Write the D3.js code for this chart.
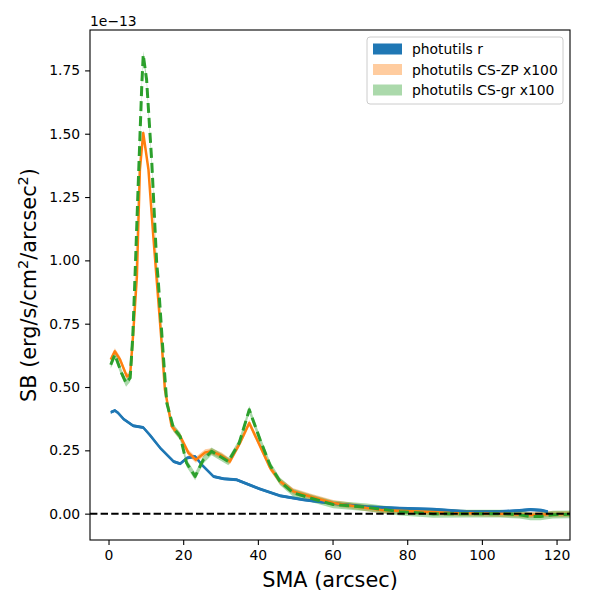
<!DOCTYPE html>
<html>
<head>
<meta charset="utf-8">
<script src="https://cdn.jsdelivr.net/npm/d3@7"></script>
<style>
  body { margin: 0; background: #fff; }
  svg { font-family: "DejaVu Sans", sans-serif; }
</style>
</head>
<body>
<div id="chart"></div>
<script>
// photutils r profile (units of 1e-13)
const smaR = [0.6, 1.7, 2.6, 4, 6.6, 9.3, 11.1, 13.8, 17.4, 19.2, 21, 23.2, 25, 28.1, 30.8, 34.3, 37, 40.6, 45.9, 52.2, 60.2, 69.2, 78, 87, 96, 104.8, 110, 113, 116, 117.7];
const sbR = [0.400, 0.407, 0.397, 0.374, 0.347, 0.340, 0.310, 0.260, 0.206, 0.197, 0.220, 0.226, 0.193, 0.147, 0.138, 0.134, 0.118, 0.097, 0.071, 0.055, 0.040, 0.027, 0.021, 0.017, 0.008, 0.008, 0.012, 0.016, 0.013, 0.007];

// CS-ZP x100
const smaZP = [0.6, 1.7, 3.1, 4.9, 5.8, 6.6, 7.6, 8.4, 9.3, 10.7, 12, 12.9, 14.3, 15.1, 16.9, 19.2, 21.4, 23.4, 25.9, 27.6, 30.3, 32.5, 35.2, 37.7, 40.6, 43.3, 45.9, 49.5, 54, 60.2, 69.2, 73.6, 82.6, 91.5, 100, 108, 113, 118, 126];
const sbZP = [0.608, 0.641, 0.608, 0.542, 0.549, 0.710, 0.937, 1.358, 1.503, 1.358, 1.095, 0.924, 0.660, 0.490, 0.345, 0.305, 0.240, 0.213, 0.242, 0.246, 0.229, 0.206, 0.279, 0.358, 0.266, 0.180, 0.128, 0.088, 0.068, 0.042, 0.022, 0.013, 0.009, 0.003, 0.001, -0.002, -0.005, -0.002, -0.001];

// CS-gr x100
const smaGR = [0.6, 1.7, 3.5, 4.7, 5.8, 6.5, 7.1, 8, 8.9, 9.3, 10.2, 11.6, 12.9, 13.3, 14.5, 15.6, 17.4, 19.2, 20.9, 23.2, 25.4, 27.6, 32.1, 35, 37.7, 40.6, 43.3, 45.9, 49.5, 54, 60.2, 69.2, 78, 87, 96, 104.8, 110, 113, 115.7, 119, 126];
const sbGR = [0.588, 0.628, 0.555, 0.516, 0.536, 0.700, 0.937, 1.318, 1.687, 1.812, 1.713, 1.384, 0.990, 0.924, 0.660, 0.437, 0.338, 0.305, 0.200, 0.147, 0.213, 0.246, 0.206, 0.279, 0.410, 0.292, 0.190, 0.128, 0.082, 0.062, 0.036, 0.025, 0.008, -0.001, 0.000, 0.000, -0.004, -0.011, -0.011, -0.004, -0.002];

// half-width of the shaded error bands
const bandR = 0.006;
const bandZP = 0.012;
const bandGR = 0.015;

const xTicks = [0, 20, 40, 60, 80, 100, 120];
const yTicks = [0, 0.25, 0.5, 0.75, 1.0, 1.25, 1.5, 1.75];
const legendLabels = ["photutils r", "photutils CS-ZP x100", "photutils CS-gr x100"];

const width = 600, height = 600;
const margin = { top: 30, right: 30, bottom: 60, left: 90 };

const svg = d3.select("#chart").append("svg")
  .attr("width", width)
  .attr("height", height);

const x = d3.scaleLinear().domain([-4.96, 123.6]).range([margin.left, width - margin.right]);
const y = d3.scaleLinear().domain([-0.104, 1.9095]).range([height - margin.bottom, margin.top]);

svg.append("clipPath").attr("id", "clip")
  .append("rect")
  .attr("x", margin.left).attr("y", margin.top)
  .attr("width", width - margin.left - margin.right)
  .attr("height", height - margin.top - margin.bottom);

const plot = svg.append("g").attr("clip-path", "url(#clip)");

const series = [
  { sma: smaR, sb: sbR, band: bandR, color: "#1f77b4", bandOpacity: 1, dash: null, width: 2.5 },
  { sma: smaZP, sb: sbZP, band: bandZP, color: "#ff7f0e", bandOpacity: 0.4, dash: null, width: 2.5 },
  { sma: smaGR, sb: sbGR, band: bandGR, color: "#2ca02c", bandOpacity: 0.4, dash: "10,5", width: 3 },
];

const area = d3.area()
  .x(d => x(d[0]))
  .y0(d => y(d[1] - d[2]))
  .y1(d => y(d[1] + d[2]));

const line = d3.line().x(d => x(d[0])).y(d => y(d[1]));

// bands first, then lines
series.forEach(s => {
  const pts = s.sma.map((v, i) => [v, s.sb[i], s.band]);
  plot.append("path")
    .attr("d", area(pts))
    .attr("fill", s.color)
    .attr("fill-opacity", s.bandOpacity);
});

series.forEach(s => {
  const pts = s.sma.map((v, i) => [v, s.sb[i]]);
  plot.append("path")
    .attr("d", line(pts))
    .attr("fill", "none")
    .attr("stroke", s.color)
    .attr("stroke-width", s.width)
    .attr("stroke-linejoin", "round")
    .attr("stroke-dasharray", s.dash);
});

// zero line
plot.append("line")
  .attr("x1", margin.left).attr("x2", width - margin.right)
  .attr("y1", y(0)).attr("y2", y(0))
  .attr("stroke", "#000")
  .attr("stroke-width", 2)
  .attr("stroke-dasharray", "7.4,3.2");

// axes
const xAxis = svg.append("g")
  .attr("transform", `translate(0,${height - margin.bottom})`)
  .call(d3.axisBottom(x).tickValues(xTicks).tickFormat(d3.format("d")).tickSizeOuter(0).tickSize(4.9).tickPadding(4.9));

const yAxis = svg.append("g")
  .attr("transform", `translate(${margin.left},0)`)
  .call(d3.axisLeft(y).tickValues(yTicks).tickFormat(d3.format(".2f")).tickSizeOuter(0).tickSize(4.9).tickPadding(4.9));

[xAxis, yAxis].forEach(a => {
  a.select(".domain").remove();
  a.selectAll("line").attr("stroke", "#000").attr("stroke-width", 1.1);
  a.selectAll("text").attr("font-size", 13.9).attr("fill", "#000")
    .attr("font-family", "DejaVu Sans, sans-serif");
});

// frame
svg.append("rect")
  .attr("x", margin.left).attr("y", margin.top)
  .attr("width", width - margin.left - margin.right)
  .attr("height", height - margin.top - margin.bottom)
  .attr("fill", "none")
  .attr("stroke", "#000")
  .attr("stroke-width", 1.1);

// offset text
svg.append("text")
  .attr("x", margin.left).attr("y", 26)
  .attr("font-size", 13.9)
  .text("1e\u221213");

// axis labels
svg.append("text")
  .attr("x", (margin.left + width - margin.right) / 2)
  .attr("y", 587)
  .attr("text-anchor", "middle")
  .attr("font-size", 20.8)
  .text("SMA (arcsec)");

const yl = svg.append("text")
  .attr("transform", `translate(36,${(margin.top + height - margin.bottom) / 2}) rotate(-90)`)
  .attr("text-anchor", "middle")
  .attr("font-size", 20.8);
yl.append("tspan").text("SB (erg/s/cm");
yl.append("tspan").attr("font-size", 14.5).attr("dy", -8).text("2");
yl.append("tspan").attr("dy", 8).text("/arcsec");
yl.append("tspan").attr("font-size", 14.5).attr("dy", -8).text("2");
yl.append("tspan").attr("dy", 8).text(")");

// legend
const legend = svg.append("g");
legend.append("rect")
  .attr("x", 367).attr("y", 37)
  .attr("width", 196).attr("height", 67)
  .attr("rx", 3)
  .attr("fill", "#fff").attr("fill-opacity", 0.8)
  .attr("stroke", "#ccc").attr("stroke-width", 1);

legendLabels.forEach((lab, i) => {
  const s = series[i];
  const cy = 49 + i * 20.5;
  legend.append("rect")
    .attr("x", 373).attr("y", cy - 5.5)
    .attr("width", 29).attr("height", 11)
    .attr("fill", s.color).attr("fill-opacity", s.bandOpacity);
  legend.append("text")
    .attr("x", 412).attr("y", cy + 5)
    .attr("font-size", 13.9)
    .text(lab);
});
</script>
</body>
</html>
